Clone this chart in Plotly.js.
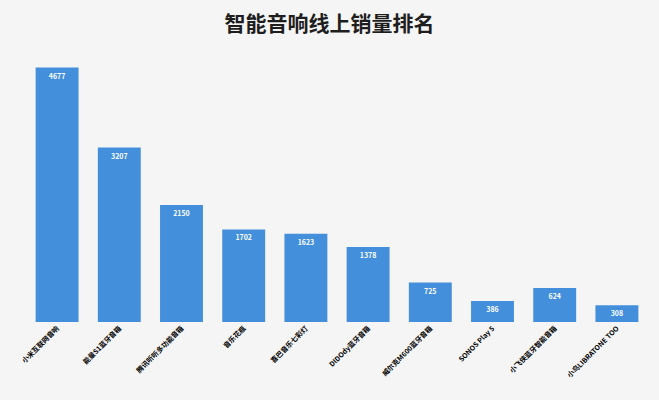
<!DOCTYPE html>
<html>
<head>
<meta charset="utf-8">
<script src="https://cdn.plot.ly/plotly-3.0.1.min.js"></script>
<style>
  html, body { margin: 0; padding: 0; background: #f5f5f5; }
  #chart { width: 659px; height: 400px; }
</style>
</head>
<body>
<div id="chart"></div>
<script>
// 产品名称 (x轴)
var products = [
    '小米互联网音响',
    '能量S1蓝牙音箱',
    '腾讯听听多功能音箱',
    '音乐花瓶',
    '喜巴音乐七彩灯',
    'DIDOdy蓝牙音箱',
    '威尔克M600蓝牙音箱',
    'SONOS Play 5',
    '小飞侠蓝牙智能音箱',
    '小鸟LIBRATONE TOO'
];
// 线上销量
var sales = [4677, 3207, 2150, 1702, 1623, 1378, 725, 386, 624, 308];

var trace = {
    x: products,
    y: sales,
    type: 'bar',
    marker: { color: '#448fdb' },
    text: sales.map(String),
    textposition: 'inside',
    insidetextanchor: 'end',
    textangle: 0,
    textfont: { color: '#ffffff', size: 7, family: 'Noto Sans CJK SC', weight: 'bold' },
    hoverinfo: 'x+y'
};

var layout = {
    width: 659,
    height: 400,
    margin: { l: 26, r: 11, t: 50, b: 78 },
    paper_bgcolor: '#f5f5f5',
    plot_bgcolor: '#f5f5f5',
    title: {
        text: '<b>智能音响线上销量排名</b>',
        x: 0.5,
        y: 0.96,
        font: { family: 'Noto Sans CJK SC', size: 21, color: '#1e1e1e' }
    },
    bargap: 0.31,
    showlegend: false,
    xaxis: {
        tickangle: -45,
        tickfont: { family: 'Noto Sans CJK SC', size: 7, color: '#000000', weight: 'bold' },
        showgrid: false,
        zeroline: false,
        showline: false,
        ticks: ''
    },
    yaxis: {
        range: [0, 5000],
        visible: false,
        showgrid: false,
        zeroline: false
    }
};

Plotly.newPlot('chart', [trace], layout, { displayModeBar: false, staticPlot: true });
</script>
</body>
</html>
